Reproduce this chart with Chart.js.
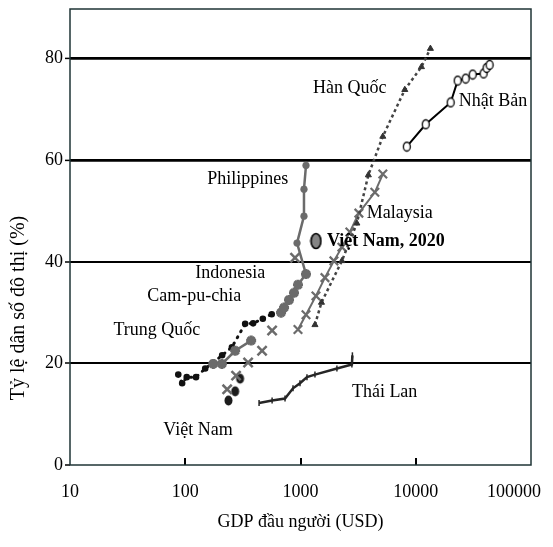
<!DOCTYPE html>
<html>
<head>
<meta charset="utf-8">
<script src="https://cdn.jsdelivr.net/npm/chart.js@4.4.0/dist/chart.umd.min.js"></script>
<style>
  html, body { margin: 0; padding: 0; background: #fff; }
</style>
</head>
<body>
<canvas id="chart" width="553" height="547"></canvas>
<script>
// axis ticks
const xTicks = [10, 100, 1000, 10000, 100000];
const yTicks = [0, 20, 40, 60, 80];

// GDP per capita (USD) and urban share (%)
const chinaGdp = [87, 94, 103, 124, 149, 175, 209, 254, 331, 388, 471, 563];
const chinaUrban = [17.8, 16.1, 17.3, 17.3, 19.0, 20.2, 21.6, 23.2, 27.8, 27.9, 28.8, 29.7];

const lowStarGdp = [175, 208, 271, 373];
const lowStarUrban = [19.9, 19.9, 22.5, 24.5];

const vietnamGdp = [237, 271, 299];
const vietnamUrban = [12.7, 14.5, 17.0];

const indonesiaGdp = [231, 276, 351, 464, 567, 896];
const indonesiaUrban = [14.9, 17.6, 20.2, 22.5, 26.5, 40.8];

const midStarGdp = [678, 720, 795, 878, 951, 1116];
const midStarUrban = [30.0, 31.0, 32.5, 33.9, 35.5, 37.6];

const philippinesGdp = [1116, 1072, 1072, 933, 1116];
const philippinesUrban = [59.0, 54.3, 49.0, 43.7, 37.6];

const malaysiaGdp = [951, 1116, 1362, 1630, 1950, 2287, 2683, 3210, 4416, 5180];
const malaysiaUrban = [26.7, 29.6, 33.3, 36.9, 40.2, 42.9, 45.9, 49.6, 53.7, 57.3];

const koreaGdp = [1335, 1520, 2287, 3084, 3879, 5180, 8033, 11205, 13406];
const koreaUrban = [27.6, 32.0, 40.2, 47.6, 57.1, 64.7, 73.9, 78.4, 82.0];

const japanGdp = [8358, 12209, 20093, 23103, 27098, 31154, 38790, 41182, 43720];
const japanUrban = [62.7, 67.1, 71.4, 75.7, 76.1, 76.9, 77.1, 78.2, 78.8];

const thaiGdp = [437, 567, 734, 861, 990, 1138, 1335, 2070, 2792, 2820];
const thaiUrban = [12.2, 12.7, 13.1, 15.1, 16.1, 17.3, 17.8, 19.0, 19.8, 21.6];

const vn2020Gdp = [1362];
const vn2020Urban = [44.1];

// text labels placed in data space
const noteTexts = ['Hàn Quốc', 'Nhật Bản', 'Philippines', 'Malaysia', 'Việt Nam, 2020',
  'Indonesia', 'Cam-pu-chia', 'Trung Quốc', 'Việt Nam', 'Thái Lan'];
const noteGdp = [1283, 23570, 155, 3765, 1696, 122, 46.9, 23.8, 64.5, 2792];
const noteUrban = [74.1, 71.6, 56.3, 49.6, 44.1, 37.8, 33.3, 26.5, 6.9, 14.3];

const FONT = '"Liberation Serif", "Times New Roman", serif';
const GREY = '#6b6b6b';

function pairs(xs, ys) {
  return xs.map((x, i) => ({ x: x, y: ys[i] }));
}

function ellipseImage(w, h, fill, stroke, lw) {
  const c = document.createElement('canvas');
  c.width = w + 3;
  c.height = h + 3;
  const g = c.getContext('2d');
  g.beginPath();
  g.ellipse(c.width / 2, c.height / 2, w / 2, h / 2, 0, 0, Math.PI * 2);
  g.fillStyle = fill;
  g.fill();
  if (stroke) {
    g.lineWidth = lw;
    g.strokeStyle = stroke;
    g.stroke();
  }
  return c;
}

const vnDot = ellipseImage(8, 10, '#1c1c1c');
const vn2020Dot = ellipseImage(10, 15, '#858585', '#000', 1.6);
const japanDot = ellipseImage(7, 9, '#fff', '#000', 1.3);

const decorPlugin = {
  id: 'decor',
  beforeDatasetsDraw(chart) {
    const { ctx, chartArea: a, scales: { x } } = chart;
    ctx.save();
    // inward x ticks
    ctx.strokeStyle = '#000';
    ctx.lineWidth = 2;
    xTicks.slice(1, -1).forEach((v) => {
      const px = Math.round(x.getPixelForValue(v));
      ctx.beginPath();
      ctx.moveTo(px, a.bottom);
      ctx.lineTo(px, a.bottom - 7);
      ctx.stroke();
    });
    // frame
    ctx.strokeStyle = '#1f3436';
    ctx.lineWidth = 1.5;
    ctx.strokeRect(a.left, a.top, a.right - a.left, a.bottom - a.top);
    ctx.restore();
  },
  afterDraw(chart) {
    const { ctx, chartArea: a, scales: { x, y } } = chart;
    ctx.save();
    ctx.fillStyle = '#000';
    ctx.textBaseline = 'middle';
    ctx.font = '18px ' + FONT;

    // y tick labels
    ctx.textAlign = 'right';
    yTicks.forEach((v) => {
      ctx.fillText(String(v), a.left - 7, y.getPixelForValue(v));
    });

    // x tick labels
    ctx.textAlign = 'center';
    xTicks.forEach((v) => {
      const label = String(v);
      const w = ctx.measureText(label).width;
      let cx = x.getPixelForValue(v);
      if (cx + w / 2 > chart.width - 12) cx = chart.width - 12 - w / 2;
      ctx.fillText(label, cx, a.bottom + 27);
    });

    // axis titles
    ctx.fillText('GDP đầu người (USD)', (a.left + a.right) / 2, a.bottom + 57);
    ctx.save();
    ctx.translate(19, 308);
    ctx.rotate(-Math.PI / 2);
    ctx.font = '20px ' + FONT;
    ctx.fillText('Tỷ lệ dân số đô thị (%)', 0, 0);
    ctx.restore();

    // country labels
    ctx.textAlign = 'left';
    noteTexts.forEach((t, i) => {
      ctx.font = (t === 'Việt Nam, 2020' ? 'bold ' : '') + '18px ' + FONT;
      ctx.fillText(t, x.getPixelForValue(noteGdp[i]), y.getPixelForValue(noteUrban[i]));
    });
    ctx.restore();
  }
};

const datasets = [
  {
    label: 'Việt Nam, 2020',
    data: pairs(vn2020Gdp, vn2020Urban),
    pointStyle: vn2020Dot,
    showLine: false
  },
  {
    label: 'Nhật Bản',
    data: pairs(japanGdp, japanUrban),
    showLine: true,
    borderColor: '#000',
    borderWidth: 2,
    pointStyle: japanDot
  },
  {
    label: 'Hàn Quốc',
    data: pairs(koreaGdp, koreaUrban),
    showLine: true,
    borderColor: '#444',
    borderWidth: 2.5,
    borderDash: [3, 3],
    pointStyle: 'triangle',
    pointRadius: 3.5,
    pointBackgroundColor: '#333',
    pointBorderColor: '#333',
    pointBorderWidth: 1
  },
  {
    label: 'Malaysia',
    data: pairs(malaysiaGdp, malaysiaUrban),
    showLine: true,
    borderColor: GREY,
    borderWidth: 2,
    pointStyle: 'crossRot',
    pointRadius: 6,
    pointBorderColor: GREY,
    pointBorderWidth: 2.2
  },
  {
    label: 'Philippines',
    data: pairs(philippinesGdp, philippinesUrban),
    showLine: true,
    borderColor: GREY,
    borderWidth: 2.5,
    pointStyle: 'circle',
    pointRadius: 3.4,
    pointBackgroundColor: GREY,
    pointBorderColor: GREY,
    pointBorderWidth: 0.5
  },
  {
    label: 'Cam-pu-chia',
    data: pairs(midStarGdp, midStarUrban),
    showLine: true,
    borderColor: GREY,
    borderWidth: 2.5,
    pointStyle: 'star',
    pointRadius: 5,
    pointBorderColor: GREY,
    pointBorderWidth: 3.2
  },
  {
    label: 'Indonesia',
    data: pairs(indonesiaGdp, indonesiaUrban),
    showLine: false,
    pointStyle: 'crossRot',
    pointRadius: 6.5,
    pointBorderColor: GREY,
    pointBorderWidth: 2.5
  },
  {
    label: 'Việt Nam',
    data: pairs(vietnamGdp, vietnamUrban),
    showLine: false,
    pointStyle: vnDot
  },
  {
    label: 'Trung Quốc (nhóm)',
    data: pairs(lowStarGdp, lowStarUrban),
    showLine: true,
    borderColor: GREY,
    borderWidth: 2.5,
    pointStyle: 'star',
    pointRadius: 5,
    pointBorderColor: GREY,
    pointBorderWidth: 3.2
  },
  {
    label: 'Trung Quốc',
    data: pairs(chinaGdp, chinaUrban),
    showLine: true,
    borderColor: '#111',
    borderWidth: 3,
    borderDash: [1, 6],
    borderCapStyle: 'round',
    pointStyle: 'circle',
    pointRadius: 1.8,
    pointBackgroundColor: '#111',
    pointBorderColor: '#111'
  },
  {
    label: 'Thái Lan',
    data: pairs(thaiGdp, thaiUrban),
    showLine: true,
    borderColor: '#262626',
    borderWidth: 2.5,
    pointStyle: 'line',
    rotation: 90,
    pointRadius: 3,
    pointBorderColor: '#262626',
    pointBorderWidth: 1.5
  }
];

new Chart(document.getElementById('chart'), {
  type: 'scatter',
  data: { datasets: datasets },
  options: {
    responsive: false,
    animation: false,
    devicePixelRatio: 1,
    layout: { padding: { top: 7, right: 22, left: 0, bottom: 0 } },
    plugins: {
      legend: { display: false },
      tooltip: { enabled: false }
    },
    elements: { line: { tension: 0 } },
    scales: {
      x: {
        type: 'logarithmic',
        min: 10,
        max: 100000,
        afterBuildTicks: (scale) => { scale.ticks = xTicks.map((v) => ({ value: v })); },
        afterFit: (scale) => { scale.height = 82; },
        ticks: { display: false },
        grid: { display: false },
        border: { display: false }
      },
      y: {
        min: 0,
        max: 89.8,
        afterBuildTicks: (scale) => { scale.ticks = yTicks.map((v) => ({ value: v })); },
        afterFit: (scale) => { scale.width = 70; },
        ticks: { display: false },
        grid: {
          color: (c) => (c.tick && c.tick.value === 0 ? 'rgba(0,0,0,0)' : '#000'),
          lineWidth: (c) => (c.tick && c.tick.value >= 60 ? 2.8 : 2),
          tickColor: '#000',
          tickWidth: 1.5,
          tickLength: 5
        },
        border: { display: false }
      }
    }
  },
  plugins: [decorPlugin]
});
</script>
</body>
</html>
